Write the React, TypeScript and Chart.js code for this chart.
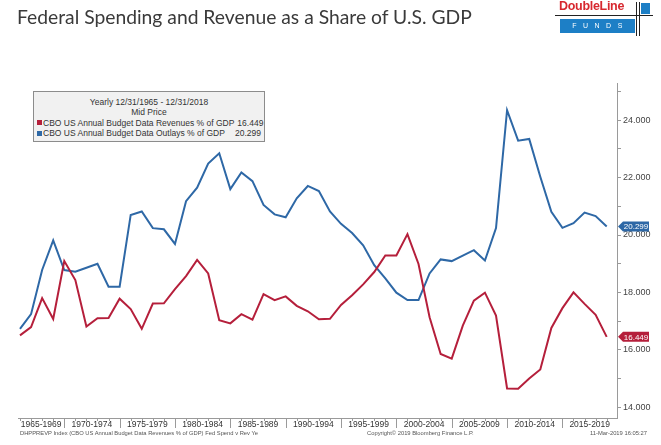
import React, { useEffect, useRef } from "react";
import { Chart, registerables } from "chart.js";

Chart.register(...registerables);

const years = [
  1965, 1966, 1967, 1968, 1969, 1970, 1971, 1972, 1973, 1974,
  1975, 1976, 1977, 1978, 1979, 1980, 1981, 1982, 1983, 1984,
  1985, 1986, 1987, 1988, 1989, 1990, 1991, 1992, 1993, 1994,
  1995, 1996, 1997, 1998, 1999, 2000, 2001, 2002, 2003, 2004,
  2005, 2006, 2007, 2008, 2009, 2010, 2011, 2012, 2013, 2014,
  2015, 2016, 2017, 2018,
];

const revenues = [
  16.5, 16.79, 17.8, 17.07, 19.09, 18.43, 16.81, 17.1, 17.11, 17.78,
  17.42, 16.73, 17.61, 17.62, 18.11, 18.57, 19.13, 18.66, 17.03, 16.92,
  17.24, 17.05, 17.94, 17.73, 17.86, 17.53, 17.34, 17.06, 17.08, 17.56,
  17.9, 18.28, 18.71, 19.29, 19.29, 20.03, 18.99, 17.13, 15.85, 15.69,
  16.84, 17.71, 17.99, 17.19, 14.65, 14.64, 15.0, 15.31, 16.76, 17.45,
  18.0, 17.6, 17.22, 16.449,
];

const outlays = [
  16.73, 17.24, 18.78, 19.81, 18.78, 18.72, 18.86, 19.0, 18.2, 18.2,
  20.7, 20.82, 20.24, 20.2, 19.69, 21.18, 21.65, 22.49, 22.85, 21.6,
  22.18, 21.88, 21.05, 20.72, 20.62, 21.28, 21.71, 21.53, 20.82, 20.39,
  20.07, 19.64, 18.95, 18.49, 17.99, 17.73, 17.73, 18.66, 19.15, 19.09,
  19.28, 19.47, 19.11, 20.24, 24.35, 23.29, 23.35, 22.03, 20.81, 20.25,
  20.41, 20.78, 20.66, 20.299,
];

const bandLabels = [
  "1965-1969", "1970-1974", "1975-1979", "1980-1984", "1985-1989", "1990-1994",
  "1995-1999", "2000-2004", "2005-2009", "2010-2014", "2015-2019",
];
const bandStarts = [1965, 1970, 1975, 1980, 1985, 1990, 1995, 2000, 2005, 2010, 2015];

const yTickValues = [14, 15, 16, 17, 18, 19, 20, 21, 22, 23, 24, 25];

const RED = "#B51F3B";
const BLUE = "#2E68A6";
const X_MIN = 1964.82;
const X_MAX = 2018.93;

const overlayPlugin = {
  id: "overlay",
  afterDraw(chart: any) {
    const { ctx, chartArea, scales } = chart;
    const xs = scales.x;
    const ys = scales.y;
    ctx.save();
    ctx.strokeStyle = "#9a9a9a";
    ctx.lineWidth = 1;
    // yearly tick marks
    years.forEach((yr) => {
      const px = Math.round(xs.getPixelForValue(yr)) + 0.5;
      ctx.beginPath();
      ctx.moveTo(px, chartArea.bottom);
      ctx.lineTo(px, chartArea.bottom + 3);
      ctx.stroke();
    });
    // band separators
    bandStarts.slice(1).forEach((s) => {
      const px = Math.round(xs.getPixelForValue(s - 1)) + 0.5;
      ctx.beginPath();
      ctx.moveTo(px, chartArea.bottom);
      ctx.lineTo(px, chartArea.bottom + 10);
      ctx.stroke();
    });
    // last value callouts
    const callouts = [
      { v: outlays[outlays.length - 1], c: BLUE },
      { v: revenues[revenues.length - 1], c: RED },
    ];
    callouts.forEach(({ v, c }) => {
      const y = ys.getPixelForValue(v);
      const x0 = chartArea.right + 1;
      ctx.beginPath();
      ctx.moveTo(x0, y);
      ctx.lineTo(x0 + 5, y - 5);
      ctx.lineTo(x0 + 31, y - 5);
      ctx.lineTo(x0 + 31, y + 5);
      ctx.lineTo(x0 + 5, y + 5);
      ctx.closePath();
      ctx.fillStyle = c;
      ctx.fill();
      ctx.fillStyle = "#ffffff";
      ctx.font = "8px 'Liberation Sans'";
      ctx.textAlign = "center";
      ctx.textBaseline = "middle";
      ctx.fillText(v.toFixed(3), x0 + 18, y + 0.5);
    });
    ctx.restore();
  },
};

function ChartCanvas() {
  const ref = useRef<HTMLCanvasElement | null>(null);
  useEffect(() => {
    if (!ref.current) return;
    const chart = new Chart(ref.current, {
      type: "line",
      data: {
        datasets: [
          {
            label: "CBO US Annual Budget Data Revenues % of GDP",
            data: years.map((yr, i) => ({ x: yr, y: revenues[i] })),
            borderColor: RED,
            borderWidth: 2,
            pointRadius: 0,
            tension: 0,
          },
          {
            label: "CBO US Annual Budget Data Outlays % of GDP",
            data: years.map((yr, i) => ({ x: yr, y: outlays[i] })),
            borderColor: BLUE,
            borderWidth: 2,
            pointRadius: 0,
            tension: 0,
          },
        ],
      },
      options: {
        animation: false,
        responsive: false,
        maintainAspectRatio: false,
        layout: { padding: { left: 18, top: 83, right: 0, bottom: 0 } },
        plugins: { legend: { display: false }, tooltip: { enabled: false } },
        scales: {
          x: {
            type: "linear",
            position: "bottom",
            min: X_MIN,
            max: X_MAX,
            afterBuildTicks: (s: any) => {
              s.ticks = bandStarts.map((st) => ({
                value: (Math.max(st - 1, X_MIN) + Math.min(st + 4, X_MAX)) / 2,
              }));
            },
            afterFit: (s: any) => {
              s.height = 27;
            },
            grid: { display: false, drawTicks: false, tickLength: 0 },
            border: { display: true, color: "#9a9a9a", width: 1 },
            ticks: {
              autoSkip: false,
              maxRotation: 0,
              padding: 2,
              color: "#333333",
              font: { family: "'Liberation Sans'", size: 8.5 },
              callback: (_v: any, i: number) => bandLabels[i],
            },
          },
          y: {
            type: "linear",
            position: "right",
            min: 13.62,
            max: 25.3,
            afterBuildTicks: (s: any) => {
              s.ticks = yTickValues.map((v) => ({ value: v }));
            },
            afterFit: (s: any) => {
              s.width = 44;
            },
            grid: {
              display: true,
              drawOnChartArea: false,
              drawTicks: true,
              tickLength: 4,
              color: "#9a9a9a",
            },
            border: { display: true, color: "#9a9a9a", width: 1 },
            ticks: {
              autoSkip: false,
              padding: 2,
              color: "#444444",
              font: { family: "'Liberation Sans'", size: 9 },
              callback: (v: any) => (v % 2 === 0 ? Number(v).toFixed(3) : ""),
            },
          },
        },
      },
      plugins: [overlayPlugin],
    });
    return () => chart.destroy();
  }, []);
  return (
    <canvas
      ref={ref}
      width={661}
      height={445}
      style={{ position: "absolute", left: 0, top: 0, width: 661, height: 445 }}
    />
  );
}

const legendFont = "'Liberation Sans', Arial, sans-serif";

const footerStyle: React.CSSProperties = {
  position: "absolute",
  top: 430,
  fontFamily: legendFont,
  fontSize: 5.8,
  lineHeight: "7px",
  color: "#555555",
  whiteSpace: "nowrap",
};

const markerStyle = (c: string): React.CSSProperties => ({
  display: "inline-block",
  width: 5,
  height: 5,
  background: c,
  marginRight: 1,
  flexShrink: 0,
});

export default function App() {
  return (
    <div
      style={{
        position: "absolute",
        left: 0,
        top: 0,
        width: 661,
        height: 445,
        background: "#ffffff",
        overflow: "hidden",
      }}
    >
      <ChartCanvas />
      {/* Title */}
      <div
        style={{
          position: "absolute",
          left: 17,
          top: 6,
          fontFamily: "Lato, 'Open Sans', sans-serif",
          fontSize: 19.3,
          lineHeight: "22px",
          color: "#3a3a3a",
          whiteSpace: "nowrap",
        }}
      >
        Federal Spending and Revenue as a Share of U.S. GDP
      </div>
      {/* Logo */}
      <div
        style={{
          position: "absolute",
          left: 559,
          top: -1,
          fontFamily: "'Liberation Sans', Arial, sans-serif",
          fontWeight: "bold",
          fontSize: 12.5,
          lineHeight: "14px",
          color: "#d7282f",
          letterSpacing: -0.3,
        }}
      >
        DoubleLine
      </div>
      <div style={{ position: "absolute", left: 555, top: 15, width: 98, height: 1, background: "#222" }} />
      <div style={{ position: "absolute", left: 636, top: 2, width: 1, height: 34, background: "#222" }} />
      <div style={{ position: "absolute", left: 639, top: 2, width: 1, height: 34, background: "#222" }} />
      <div style={{ position: "absolute", left: 641, top: 3, width: 9, height: 11, background: "#1d7fc6" }} />
      <div
        style={{
          position: "absolute",
          left: 560,
          top: 19,
          width: 75,
          height: 14,
          background: "#1d7fc6",
          color: "#ffffff",
          fontFamily: "'Liberation Sans', Arial, sans-serif",
          fontSize: 7,
          lineHeight: "14px",
          letterSpacing: 6.5,
          textAlign: "center",
          paddingLeft: 6,
          boxSizing: "border-box",
        }}
      >
        FUNDS
      </div>
      {/* Legend */}
      <div
        style={{
          position: "absolute",
          left: 33,
          top: 91,
          width: 232,
          height: 51,
          boxSizing: "border-box",
          background: "#f1f1f1",
          border: "1px solid #8c8c8c",
          fontFamily: legendFont,
          fontSize: 8.5,
          lineHeight: "10.3px",
          color: "#333333",
          padding: "5px 3px 0 3px",
        }}
      >
        <div style={{ textAlign: "center" }}>Yearly 12/31/1965 - 12/31/2018</div>
        <div style={{ textAlign: "center" }}>Mid Price</div>
        <div style={{ display: "flex", alignItems: "center", whiteSpace: "nowrap" }}>
          <span style={markerStyle(RED)} />
          <span style={{ flex: 1 }}>CBO US Annual Budget Data Revenues % of GDP</span>
          <span style={{ marginLeft: 3 }}>16.449</span>
        </div>
        <div style={{ display: "flex", alignItems: "center", whiteSpace: "nowrap" }}>
          <span style={markerStyle(BLUE)} />
          <span style={{ flex: 1 }}>CBO US Annual Budget Data Outlays % of GDP</span>
          <span style={{ marginLeft: 3 }}>20.299</span>
        </div>
      </div>
      {/* Footer */}
      <div style={{ ...footerStyle, left: 20 }}>
        DHPPREVP Index (CBO US Annual Budget Data Revenues % of GDP) Fed Spend v Rev Ye
      </div>
      <div style={{ ...footerStyle, left: 367 }}>Copyright© 2019 Bloomberg Finance L.P.</div>
      <div style={{ ...footerStyle, right: 14 }}>11-Mar-2019 16:05:27</div>
    </div>
  );
}
